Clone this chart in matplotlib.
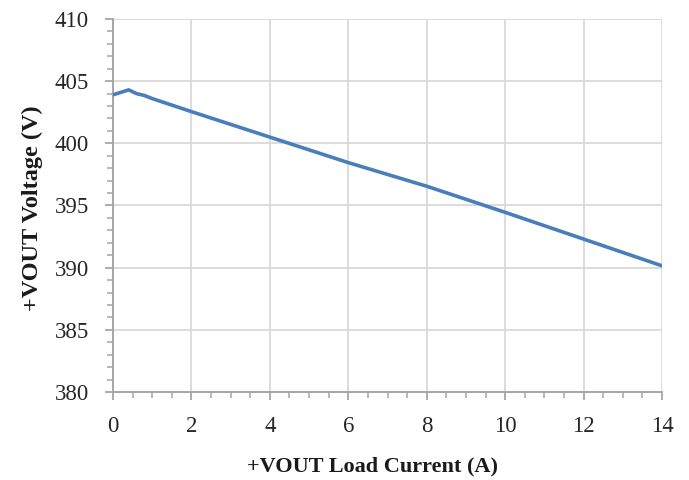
import matplotlib
matplotlib.use("Agg")
import matplotlib.pyplot as plt
from matplotlib.ticker import MultipleLocator

# Output voltage versus load current
load_current = [0.0, 0.2, 0.4, 0.6, 0.8, 1.0, 2.0, 4.0, 6.0, 8.0, 10.0, 12.0, 14.0]
vout_voltage = [403.9, 404.1, 404.3, 404.0, 403.85, 403.6, 402.55, 400.5, 398.45,
                396.55, 394.45, 392.3, 390.15]

x_ticks = [0, 2, 4, 6, 8, 10, 12, 14]
y_ticks = [380, 385, 390, 395, 400, 405, 410]

plt.rcParams['font.family'] = ['Liberation Serif', 'DejaVu Serif']

W, H = 689, 480
fig = plt.figure(figsize=(W / 100, H / 100), dpi=100)
ax = fig.add_axes([113 / W, 1 - 392 / H, (662 - 113) / W, (392 - 19) / H])

ax.plot(load_current, vout_voltage, color='#4A7EBB', lw=2.6, solid_capstyle='round',
        solid_joinstyle='round', zorder=3)

ax.set_xlim(0, 14)
ax.set_ylim(380, 410)
ax.set_xticks(x_ticks)
ax.set_yticks(y_ticks)
ax.xaxis.set_minor_locator(MultipleLocator(0.5))
ax.yaxis.set_minor_locator(MultipleLocator(1))

ax.grid(True, which='major', color='#D9D9D9', lw=1.3, zorder=0)
ax.set_axisbelow(True)

for side in ('top', 'right'):
    ax.spines[side].set_visible(False)
for side in ('left', 'bottom'):
    ax.spines[side].set_color('#A6A6A6')
    ax.spines[side].set_linewidth(1.4)

ax.tick_params(which='major', direction='out', length=5.5, width=1.3, color='#A6A6A6',
               labelsize=16.5, labelcolor='#262626')
ax.tick_params(which='minor', direction='out', length=4.5, width=1.1, color='#A6A6A6')
ax.tick_params(axis='y', which='major', pad=12)
ax.tick_params(axis='x', which='major', pad=12)

# Axis titles placed in figure coordinates
fig.text(372.5 / W, 1 - 466 / H, '+VOUT Load Current (A)', fontsize=16,
         fontweight='bold', ha='center', va='center', color='#1A1A1A')
fig.text(32 / W, 1 - 208.5 / H, '+VOUT Voltage (V)', fontsize=17.5,
         fontweight='bold', ha='center', va='center', rotation=90, color='#1A1A1A')

fig.savefig('out.png', dpi=100)
